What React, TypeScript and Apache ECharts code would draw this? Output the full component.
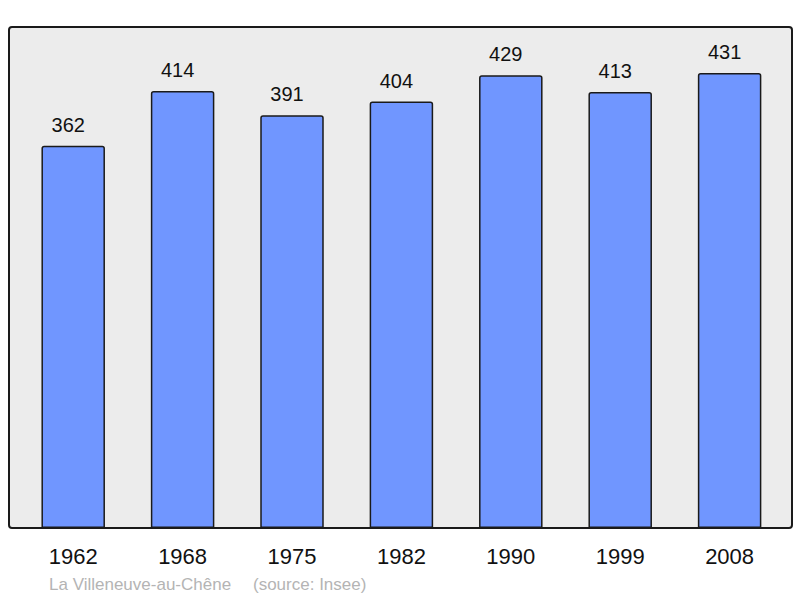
import React, { useEffect, useRef } from "react";
import * as echarts from "echarts";

const years = ["1962", "1968", "1975", "1982", "1990", "1999", "2008"];
const population = [362, 414, 391, 404, 429, 413, 431];
const footerName = "La Villeneuve-au-Chêne";
const footerSource = "(source: Insee)";

export default function App() {
  const ref = useRef<HTMLDivElement>(null);
  useEffect(() => {
    if (!ref.current) return;
    const chart = echarts.init(ref.current, null, { renderer: "svg" });
    chart.setOption({
      animation: false,
      backgroundColor: "#ffffff",
      textStyle: { fontFamily: "Liberation Sans, Arial, sans-serif" },
      graphic: [
        {
          type: "rect",
          z: -10,
          silent: true,
          shape: { x: 9, y: 27, width: 783, height: 501, r: 3 },
          style: { fill: "#ececec", stroke: "#1a1a1a", lineWidth: 2 },
        },
        {
          type: "text",
          left: 49,
          top: 576,
          silent: true,
          style: {
            text: footerName,
            fill: "#b4b4b4",
            font: '17px "Liberation Sans", Arial, sans-serif',
          },
        },
        {
          type: "text",
          left: 253,
          top: 576,
          silent: true,
          style: {
            text: footerSource,
            fill: "#b4b4b4",
            font: '17px "Liberation Sans", Arial, sans-serif',
          },
        },
      ],
      grid: { left: 18.5, right: 15.7, top: 27, bottom: 70, containLabel: false },
      xAxis: {
        type: "category",
        data: years,
        axisLine: { show: false },
        axisTick: { show: false },
        axisLabel: {
          color: "#111",
          fontSize: 22,
          margin: 17,
          fontFamily: "Liberation Sans, Arial, sans-serif",
        },
      },
      yAxis: {
        type: "value",
        min: 0,
        max: 474.6,
        show: false,
        splitLine: { show: false },
      },
      series: [
        {
          type: "bar",
          data: population,
          barWidth: 63.5,
          itemStyle: {
            color: "#7096ff",
            borderColor: "#1a1a1a",
            borderWidth: 1.5,
            borderRadius: [2, 2, 0, 0],
          },
          label: {
            show: true,
            position: "top",
            distance: 11,
            offset: [-5, 0],
            color: "#111",
            fontSize: 20,
            fontFamily: "Liberation Sans, Arial, sans-serif",
          },
        },
      ],
    });
    return () => chart.dispose();
  }, []);
  return <div ref={ref} style={{ width: 800, height: 598, position: "absolute", left: 0, top: 0 }} />;
}
